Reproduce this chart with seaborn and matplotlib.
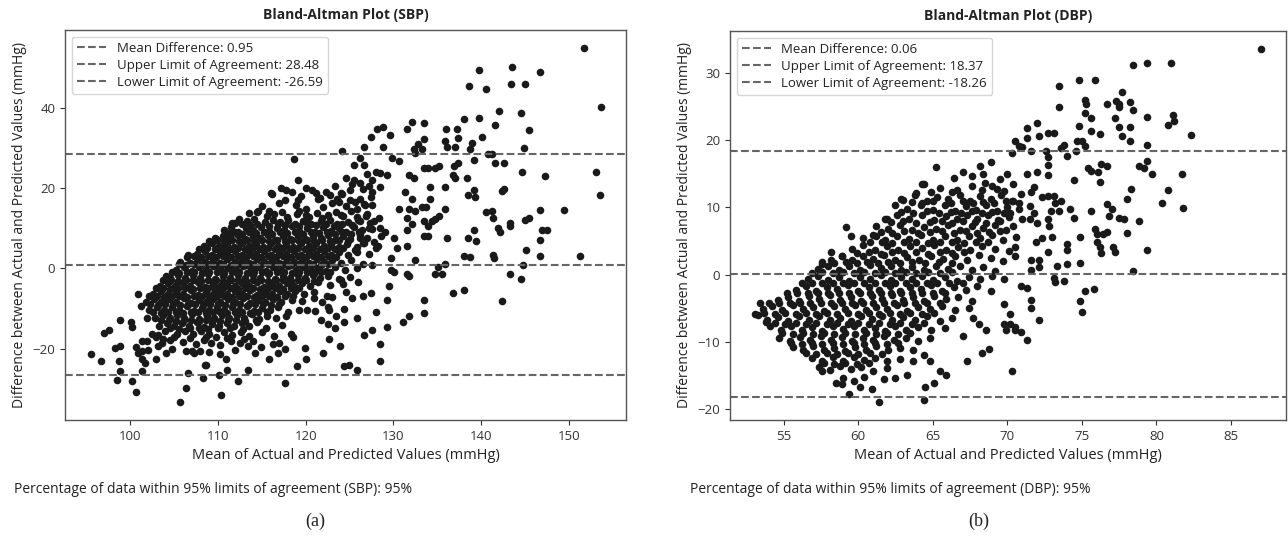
import pandas as pd
import seaborn as sns
import matplotlib.pyplot as plt

# Bland-Altman data: (mean of actual & predicted, difference)
sbp_sparse = [
    (151.7, 55.1), (153.6, 40.3), (153.1, 24.1), (153.5, 18.4), (151.2, 3.2), (149.4, 14.6),
    (146.7, 49.1), (147.3, 23.0), (146.7, 14.6), (146.9, 9.5), (147.5, 9.5), (146.7, 7.0),
    (146.7, 3.2), (145.0, 46.0), (143.5, 50.2), (143.4, 46.0), (144.5, 38.7), (145.4, 34.6),
    (144.9, 30.0), (144.7, 24.1), (145.4, 12.5), (145.0, 12.0), (145.1, 4.5), (144.8, 0.8),
    (144.5, -2.6), (143.3, -1.4), (143.3, 11.4), (143.3, 10.6), (142.4, 19.3), (142.6, 19.7),
    (142.6, 26.4), (142.4, -8.2), (142.0, 39.3), (141.6, 35.8), (141.2, 28.5), (140.8, 28.5),
    (141.6, 26.4), (141.2, 14.4), (140.6, 14.0), (141.3, 12.7), (141.9, 10.2), (142.1, 9.1),
    (141.3, 3.3), (141.5, 2.6), (140.5, 44.7), (139.7, 49.6), (138.6, 45.5), (139.7, 37.5),
    (140.1, 32.8), (139.2, 27.0), (138.9, 31.3), (138.7, 29.8), (138.0, 37.4), (138.4, 22.5),
    (139.2, 19.5), (139.3, 17.8), (138.5, 18.3), (139.2, 9.7), (138.5, 7.6), (139.4, 6.9),
    (138.0, 3.2), (138.7, 2.9), (138.0, -5.5), (137.4, 32.5), (137.2, 34.7), (137.0, 30.2),
    (137.3, 26.4), (136.9, 25.5), (136.8, 23.4), (137.0, 22.5), (136.0, 34.7), (135.9, 31.9),
    (136.1, 30.2), (135.9, 20.4), (135.9, 14.8), (136.1, 7.6), (135.9, 1.2), (136.8, -6.1),
    (135.2, 25.5), (134.7, 25.1), (135.2, 13.1), (134.7, 12.3), (135.5, -1.4), (134.7, -1.4),
    (135.1, 0.3), (133.5, 36.2), (133.5, 32.3), (133.3, 29.8), (132.8, 31.1), (133.5, 25.1),
    (133.9, 25.1), (134.2, 20.4), (134.2, 17.4), (133.7, 15.3), (133.3, 15.3), (133.5, 11.9),
    (133.9, 10.6), (134.4, 11.9), (133.5, 8.0), (133.9, 8.0), (133.5, -7.8), (133.5, -11.2),
    (132.5, 2.0), (132.1, 36.6), (131.6, 34.9), (132.3, 29.8), (132.5, 28.9), (131.8, 23.4),
    (132.3, 22.5), (132.1, 17.4), (131.8, 14.8), (132.5, 14.4), (131.6, 12.7), (132.1, 11.0),
    (131.6, 9.7), (131.6, 5.5), (131.6, -1.4), (131.8, -1.8), (131.8, -12.0), (131.1, -13.3),
    (130.6, 26.8), (131.3, 19.1), (130.6, 14.8), (130.1, 7.6), (130.4, 5.0), (129.7, 2.5),
    (129.7, -0.5), (130.1, -0.9), (129.5, -4.4), (129.3, -7.8), (129.3, -14.6), (128.5, -18.9),
    (128.5, -23.0), (128.0, -10.8), (128.8, 35.3), (128.1, 34.9), (129.6, 33.2), (129.8, 27.6),
    (128.8, 30.2), (129.3, 23.4), (128.5, 23.8), (128.5, 20.4), (127.6, 22.1), (127.6, 19.1),
    (127.6, 15.7), (127.8, 11.9), (128.5, 10.2), (127.8, 6.7), (128.3, 5.5), (127.6, 0.8),
    (127.4, -6.1), (127.6, -15.4), (126.7, -16.7), (127.4, 32.8), (126.7, 30.2), (126.2, 27.6),
    (125.5, 25.9), (126.7, 25.9), (125.5, 22.1), (126.2, 21.2), (126.2, 17.4), (126.7, 16.1),
    (125.8, 14.8), (126.9, 13.1), (126.2, 11.9), (127.2, 10.2), (126.2, 7.6), (126.5, 6.3),
    (125.8, 4.2), (126.5, -6.9), (125.8, -12.5), (125.8, -25.3), (124.9, -24.0), (124.4, -24.4),
    (124.1, 29.4), (124.6, 22.5), (123.9, -19.3), (124.4, -13.3), (122.7, -17.6), (122.7, -10.3),
    (122.0, -21.0), (120.0, -22.7), (119.9, -19.9), (119.0, -24.4), (117.7, -28.7), (118.6, -17.2),
    (117.7, -20.1), (116.8, -21.0), (115.8, -22.7), (116.3, -18.9), (114.9, -19.7), (113.4, -19.3),
    (113.4, -25.3), (112.3, -28.2), (111.1, -25.3), (110.9, -22.7), (110.1, -26.5), (110.4, -31.7),
    (108.3, -27.4), (108.5, -24.0), (108.7, -24.0), (106.6, -26.1), (106.4, -29.8), (105.7, -33.4),
    (106.4, -20.6), (107.3, -21.0), (100.7, -30.8), (100.2, -28.1), (98.5, -27.8), (98.8, -25.5),
    (98.7, -23.1), (98.3, -19.9), (98.8, -19.3), (95.5, -21.4), (96.7, -23.1), (97.0, -16.1),
    (97.6, -15.3), (98.8, -12.9), (100.1, -13.3), (100.2, -14.6), (100.7, -19.7), (100.9, -21.0),
    (101.4, -20.6), (101.4, -22.7), (101.7, -23.5), (101.4, -25.7), (100.9, -6.5), (101.2, -9.5),
    (101.9, -12.5), (101.4, -18.0), (103.0, -22.7), (103.2, -19.3), (103.7, -17.6), (103.2, -16.7),
    (104.1, -21.0), (104.1, -1.8), (105.7, 1.6), (106.6, 3.3), (107.5, 2.9), (109.7, 7.6),
    (110.9, 3.8), (111.6, 8.9), (112.0, 11.4), (114.6, 14.4), (115.8, 14.4), (116.1, 18.7),
    (117.2, 20.0), (117.7, 17.0), (118.7, 27.2), (119.1, 22.1), (118.4, 19.1), (120.0, 20.0),
    (120.7, 19.5), (121.2, 18.7), (121.4, 17.4), (119.1, 17.0), (119.3, 14.4), (120.0, 14.8),
    (122.3, 19.0), (123.3, 20.5), (124.0, 18.9), (125.0, 19.5), (125.3, 21.0), (123.8, 16.5),
    (126.5, 19.8), (127.0, 23.5), (128.0, 24.0), (127.2, 20.5), (121.9, -8.5), (122.5, -9.6),
    (123.5, -12.0), (124.0, -2.8), (124.6, -5.8), (125.3, -7.5), (124.4, -10.2), (126.0, -3.5),
    (121.8, -13.0), (122.6, -14.0), (123.4, -15.0),
]

sbp_core = [
    (116.2, 18.5), (117.8, 19.6), (119.5, 18.0), (121.6, 17.6), (122.8, 18.2), (123.6, 17.3), (124.2, 18.6), (125.0, 17.0),
    (115.0, 15.6), (117.0, 16.4), (118.9, 15.9), (122.0, 15.2), (123.0, 16.3), (124.6, 15.5), (125.6, 16.6), (126.8, 15.8), (127.4, 17.8),
    (113.6, 13.8), (114.5, 14.2), (116.4, 13.6), (117.3, 14.0), (119.0, 13.5), (120.4, 12.8), (121.3, 13.9), (122.5, 13.4),
    (123.5, 14.1), (124.3, 13.0), (125.2, 14.3), (127.0, 13.6),
    (111.6, 11.4), (112.4, 12.3), (113.3, 11.8), (114.1, 12.4), (115.4, 11.7), (116.3, 12.2), (117.1, 11.5), (118.0, 12.1),
    (118.8, 11.2), (119.7, 11.9), (120.6, 11.0), (121.7, 11.8), (122.8, 12.2), (123.6, 11.2), (124.8, 11.6), (126.0, 12.0),
    (127.3, 11.3), (128.4, 12.6),
    (110.7, 9.6), (111.5, 10.3), (112.3, 9.2), (113.2, 10.1), (114.0, 9.5), (114.9, 10.4), (115.8, 9.3), (116.7, 10.2),
    (117.5, 9.6), (118.4, 10.5), (119.3, 9.4), (120.2, 10.0), (121.1, 9.2), (122.0, 10.3), (122.9, 9.4), (123.8, 10.1),
    (124.6, 9.2), (125.5, 10.4), (126.4, 9.5), (127.6, 9.9), (129.0, 9.2),
    (109.8, 7.4), (110.6, 8.2), (111.4, 7.6), (112.3, 8.4), (113.1, 7.3), (114.0, 8.1), (114.8, 7.5), (115.7, 8.3),
    (116.5, 7.2), (117.4, 8.0), (118.2, 7.4), (119.1, 8.2), (119.9, 7.3), (120.8, 8.1), (121.7, 7.5), (122.5, 8.4),
    (123.4, 7.2), (124.3, 8.0), (125.1, 7.4), (126.2, 8.3), (127.0, 7.6), (128.6, 8.0),
    (108.4, 5.6), (109.3, 6.3), (110.1, 5.5), (111.0, 6.2), (111.8, 5.4), (112.7, 6.4), (113.5, 5.6), (114.4, 6.1),
    (115.2, 5.3), (116.1, 6.3), (116.9, 5.5), (117.8, 6.2), (118.6, 5.4), (119.5, 6.4), (120.4, 5.6), (121.2, 6.3),
    (122.1, 5.5), (122.9, 6.1), (123.8, 5.4), (124.7, 6.2), (125.8, 5.3), (126.6, 6.4), (128.0, 5.2),
    (107.6, 3.6), (108.5, 4.3), (109.3, 3.4), (110.2, 4.1), (111.0, 3.5), (111.9, 4.4), (112.7, 3.3), (113.6, 4.2),
    (114.4, 3.6), (115.3, 4.3), (116.1, 3.4), (117.0, 4.1), (117.8, 3.5), (118.7, 4.4), (119.5, 3.3), (120.4, 4.2),
    (121.2, 3.6), (122.1, 4.3), (122.9, 3.4), (123.8, 4.0), (124.8, 3.3), (125.6, 4.5), (127.2, 3.5),
    (106.8, 1.4), (107.7, 2.3), (108.5, 1.5), (109.4, 2.2), (110.2, 1.3), (111.1, 2.4), (111.9, 1.6), (112.8, 2.1),
    (113.6, 1.3), (114.5, 2.3), (115.3, 1.5), (116.2, 2.2), (117.0, 1.4), (117.9, 2.4), (118.7, 1.6), (119.6, 2.1),
    (120.4, 1.3), (121.3, 2.3), (122.1, 1.5), (123.0, 2.2), (124.0, 1.4), (125.2, 2.0), (126.5, 1.2),
    (105.2, -0.4), (106.1, 0.3), (107.0, -0.6), (107.8, 0.4), (108.7, -0.3), (109.5, 0.5), (110.4, -0.5), (111.2, 0.2),
    (112.1, -0.4), (112.9, 0.6), (113.8, -0.2), (114.6, 0.4), (115.5, -0.6), (116.3, 0.3), (117.2, -0.4), (118.0, 0.5),
    (118.9, -0.3), (119.7, 0.4), (120.6, -0.5), (121.4, 0.2), (122.3, -0.6), (123.3, 0.3), (124.5, -0.4), (125.8, 0.1),
    (104.6, -2.3), (105.5, -1.6), (106.3, -2.5), (107.2, -1.7), (108.0, -2.4), (108.9, -1.5), (109.7, -2.6), (110.6, -1.8),
    (111.4, -2.4), (112.3, -1.6), (113.1, -2.5), (114.0, -1.7), (114.8, -2.3), (115.7, -1.5), (116.5, -2.6), (117.4, -1.8),
    (118.2, -2.4), (119.1, -1.6), (119.9, -2.5), (120.8, -1.7), (121.6, -2.4), (122.6, -1.9), (123.8, -2.6), (125.0, -2.2),
    (103.4, -4.4), (104.3, -3.6), (105.1, -4.5), (106.0, -3.7), (106.8, -4.3), (107.7, -3.5), (108.5, -4.6), (109.4, -3.8),
    (110.2, -4.4), (111.1, -3.6), (111.9, -4.5), (112.8, -3.7), (113.6, -4.3), (114.5, -3.5), (115.3, -4.6), (116.2, -3.8),
    (117.0, -4.4), (117.9, -3.6), (118.7, -4.5), (119.6, -3.7), (120.5, -4.3), (121.4, -3.5), (122.8, -4.2), (124.3, -3.8),
    (102.6, -6.4), (103.5, -5.6), (104.3, -6.5), (105.2, -5.7), (106.0, -6.3), (106.9, -5.5), (107.7, -6.6), (108.6, -5.8),
    (109.4, -6.4), (110.3, -5.6), (111.1, -6.5), (112.0, -5.7), (112.8, -6.3), (113.7, -5.5), (114.5, -6.6), (115.4, -5.8),
    (116.2, -6.4), (117.1, -5.6), (117.9, -6.5), (118.8, -5.7), (119.8, -6.3), (120.9, -5.9), (122.4, -6.8),
    (101.8, -8.3), (102.7, -7.6), (103.5, -8.5), (104.4, -7.7), (105.2, -8.4), (106.1, -7.5), (106.9, -8.6), (107.8, -7.8),
    (108.6, -8.4), (109.5, -7.6), (110.3, -8.5), (111.2, -7.7), (112.0, -8.3), (112.9, -7.5), (113.7, -8.6), (114.6, -7.8),
    (115.4, -8.4), (116.3, -7.6), (117.2, -8.5), (118.4, -7.9), (119.6, -8.2), (121.0, -7.4), (123.0, -7.2),
    (102.2, -10.3), (103.1, -9.6), (103.9, -10.5), (104.8, -9.7), (105.6, -10.4), (106.5, -9.5), (107.3, -10.6), (108.2, -9.8),
    (109.0, -10.4), (109.9, -9.6), (110.7, -10.5), (111.6, -9.7), (112.4, -10.3), (113.3, -9.5), (114.1, -10.6), (115.0, -9.8),
    (115.9, -10.4), (116.9, -9.6), (118.0, -10.8), (119.2, -10.5), (120.2, -10.3), (121.1, -10.6),
    (102.8, -12.4), (103.7, -11.6), (104.5, -12.5), (105.4, -11.7), (106.2, -12.3), (107.1, -11.5), (107.9, -12.6), (108.8, -11.8),
    (109.6, -12.4), (110.5, -11.6), (111.3, -12.5), (112.2, -11.7), (113.0, -12.3), (113.9, -11.5), (114.7, -12.6), (115.6, -11.8),
    (116.6, -12.5), (117.8, -12.0),
    (103.3, -14.3), (104.2, -13.6), (105.0, -14.5), (105.9, -13.7), (106.7, -14.4), (107.6, -13.5), (108.4, -14.6), (109.3, -13.8),
    (110.1, -14.4), (111.0, -13.6), (111.8, -14.5), (112.7, -13.7), (113.6, -14.3), (114.5, -13.5), (115.5, -14.8), (117.3, -14.1),
    (102.5, -16.3), (104.0, -15.7), (105.4, -16.4), (106.3, -15.6), (107.2, -16.5), (108.1, -15.7), (109.0, -16.4), (109.8, -17.1),
    (110.7, -15.9), (111.6, -16.6), (112.6, -16.0), (113.5, -16.8), (115.0, -15.8), (116.4, -16.9), (118.3, -16.4),
    (101.9, -18.2), (103.6, -18.6), (104.6, -17.9), (106.0, -18.4), (107.5, -18.8), (108.4, -17.8), (109.2, -18.5), (110.3, -19.0),
    (111.5, -18.1), (112.5, -18.6), (114.0, -18.2), (117.0, -18.5),
    (102.1, -20.4), (104.8, -20.1), (107.0, -20.6), (108.0, -20.5), (109.0, -20.9), (110.2, -21.3), (112.0, -20.4), (114.2, -21.0),
]

# extra points between the core rows, where the cloud is solid black
sbp_fill = [
    (115.6, 13.1), (117.9, 12.9), (120.0, 13.3), (121.9, 12.7), (124.0, 13.4), (125.9, 12.8),
    (112.8, 11.0), (113.7, 10.8), (114.5, 11.2), (115.8, 10.7), (116.8, 11.1), (117.6, 10.9), (119.2, 10.6),
    (120.1, 11.3), (121.2, 10.8), (122.3, 11.0), (123.2, 10.7), (124.2, 11.2), (125.3, 10.9),
    (111.1, 8.9), (112.0, 9.1), (112.8, 8.7), (113.6, 9.0), (114.4, 8.8), (115.3, 9.1), (116.2, 8.7), (117.1, 9.0),
    (117.9, 8.8), (118.8, 9.1), (119.7, 8.7), (120.6, 9.0), (121.5, 8.8), (122.4, 9.1), (123.3, 8.7), (124.2, 9.0),
    (125.2, 8.6), (126.1, 9.0),
    (109.0, 6.9), (109.9, 7.1), (110.7, 6.8), (111.6, 7.0), (112.4, 6.8), (113.3, 7.1), (114.1, 6.9), (115.0, 7.0),
    (115.8, 6.8), (116.7, 7.1), (117.6, 6.9), (118.4, 7.0), (119.3, 6.8), (120.2, 7.1), (121.0, 6.9), (121.9, 7.0),
    (122.8, 6.8), (123.8, 7.1), (124.8, 6.9),
    (107.9, 4.9), (108.8, 5.1), (109.7, 4.8), (110.6, 5.0), (111.4, 4.8), (112.3, 5.1), (113.1, 4.9), (114.0, 5.0),
    (114.8, 4.8), (115.7, 5.1), (116.5, 4.9), (117.4, 5.0), (118.2, 4.8), (119.1, 5.1), (119.9, 4.9), (120.8, 5.0),
    (121.6, 4.8), (122.5, 5.1), (123.4, 4.9), (124.3, 5.0),
    (106.5, 2.9), (107.3, 3.1), (108.1, 2.8), (108.9, 3.0), (109.8, 2.8), (110.6, 3.1), (111.5, 2.9), (112.3, 3.0),
    (113.2, 2.8), (114.0, 3.1), (114.9, 2.9), (115.7, 3.0), (116.6, 2.8), (117.4, 3.1), (118.3, 2.9), (119.1, 3.0),
    (120.0, 2.8), (120.8, 3.1), (121.7, 2.9), (122.5, 3.0), (123.5, 2.8),
    (105.6, 1.0), (106.4, 0.9), (107.3, 1.1), (108.1, 0.8), (108.9, 1.0), (109.8, 0.9), (110.6, 1.1), (111.5, 0.8),
    (112.3, 1.0), (113.2, 0.9), (114.0, 1.1), (114.9, 0.8), (115.7, 1.0), (116.6, 0.9), (117.4, 1.1), (118.3, 0.8),
    (119.1, 1.0), (120.0, 0.9), (120.8, 1.1), (121.7, 0.8), (122.6, 1.0),
    (104.8, -1.0), (105.6, -1.1), (106.5, -0.9), (107.3, -1.0), (108.2, -1.1), (109.0, -0.9), (109.9, -1.0), (110.7, -1.1),
    (111.6, -0.9), (112.4, -1.0), (113.3, -1.1), (114.1, -0.9), (115.0, -1.0), (115.8, -1.1), (116.7, -0.9), (117.5, -1.0),
    (118.4, -1.1), (119.2, -0.9), (120.1, -1.0), (120.9, -1.1), (121.8, -0.9), (122.8, -1.0),
    (103.8, -3.0), (104.7, -2.9), (105.5, -3.1), (106.4, -3.0), (107.2, -2.9), (108.1, -3.1), (108.9, -3.0), (109.8, -2.9),
    (110.6, -3.1), (111.5, -3.0), (112.3, -2.9), (113.2, -3.1), (114.0, -3.0), (114.9, -2.9), (115.7, -3.1), (116.6, -3.0),
    (117.4, -2.9), (118.3, -3.1), (119.1, -3.0), (120.0, -2.9), (121.0, -3.1),
    (102.9, -5.0), (103.8, -4.9), (104.6, -5.1), (105.5, -5.0), (106.3, -4.9), (107.2, -5.1), (108.0, -5.0), (108.9, -4.9),
    (109.7, -5.1), (110.6, -5.0), (111.4, -4.9), (112.3, -5.1), (113.1, -5.0), (114.0, -4.9), (114.8, -5.1), (115.7, -5.0),
    (116.5, -4.9), (117.4, -5.1), (118.3, -5.0), (119.3, -4.9),
    (102.2, -7.0), (103.1, -6.9), (103.9, -7.1), (104.8, -7.0), (105.6, -6.9), (106.5, -7.1), (107.3, -7.0), (108.2, -6.9),
    (109.0, -7.1), (109.9, -7.0), (110.7, -6.9), (111.6, -7.1), (112.4, -7.0), (113.3, -6.9), (114.1, -7.1), (115.0, -7.0),
    (115.8, -6.9), (116.7, -7.1), (117.6, -7.0), (118.6, -6.9),
    (102.3, -9.0), (103.2, -9.1), (104.0, -8.9), (104.9, -9.0), (105.7, -9.1), (106.6, -8.9), (107.4, -9.0), (108.3, -9.1),
    (109.1, -8.9), (110.0, -9.0), (110.8, -9.1), (111.7, -8.9), (112.5, -9.0), (113.4, -9.1), (114.2, -8.9), (115.1, -9.0),
    (116.0, -9.1), (117.0, -8.9),
    (102.6, -11.0), (103.5, -11.1), (104.3, -10.9), (105.2, -11.0), (106.0, -11.1), (106.9, -10.9), (107.7, -11.0), (108.6, -11.1),
    (109.4, -10.9), (110.3, -11.0), (111.1, -11.1), (112.0, -10.9), (112.8, -11.0), (113.7, -11.1), (114.6, -10.9), (115.6, -11.0),
    (103.5, -13.0), (104.4, -12.9), (105.2, -13.1), (106.1, -13.0), (106.9, -12.9), (107.8, -13.1), (108.6, -13.0), (109.5, -12.9),
    (110.3, -13.1), (111.2, -13.0), (112.1, -12.9), (113.1, -13.1), (114.3, -13.0),
    (104.5, -15.0), (105.6, -15.1), (106.8, -14.9), (107.9, -15.0), (108.9, -15.1), (110.0, -14.9), (111.4, -15.0), (112.9, -15.1),
    (103.0, -17.2), (105.0, -17.0), (106.8, -17.3), (108.6, -17.1), (111.0, -17.4), (113.0, -17.6),
]

dbp_sparse = [
    (87.0, 33.6), (78.4, 31.1), (79.4, 31.5), (81.0, 31.4), (74.8, 28.9), (75.9, 29.0), (73.5, 28.0),
    (73.5, 24.9), (77.7, 27.1), (77.5, 25.4), (77.3, 25.8), (78.2, 25.7), (78.4, 24.5), (76.7, 25.4),
    (77.5, 24.9), (75.2, 25.9), (75.3, 25.3), (75.2, 24.0), (75.6, 23.3), (77.2, 23.3), (77.5, 22.0),
    (78.2, 21.9), (79.4, 23.5), (81.1, 23.7), (81.2, 22.8), (80.8, 22.3), (82.3, 20.7), (74.8, 22.1),
    (75.6, 21.3), (76.2, 20.9), (77.7, 20.6), (78.2, 19.8), (74.7, 19.8), (75.0, 19.8), (75.2, 19.1),
    (74.6, 18.3), (79.4, 19.3), (74.0, 17.6), (73.6, 18.8), (73.8, 19.3), (73.1, 21.1), (72.7, 21.0),
    (72.0, 22.5), (72.1, 20.6), (71.3, 21.8), (71.3, 20.3), (70.8, 19.1), (71.0, 18.9), (70.5, 19.9),
    (70.3, 18.1), (71.6, 18.4), (72.6, 18.3), (72.7, 17.5), (72.7, 16.3), (72.0, 15.3), (71.3, 15.0),
    (71.8, 13.0), (72.7, 14.8), (74.5, 14.0), (75.4, 15.9), (75.6, 15.4), (76.2, 13.8), (76.1, 15.3),
    (76.7, 16.1), (76.3, 16.4), (78.8, 16.1), (79.4, 16.9), (79.2, 15.8), (79.7, 15.0), (81.7, 15.0),
    (78.3, 12.7), (80.8, 12.6), (78.0, 11.2), (80.4, 10.6), (81.8, 9.9), (76.7, 10.5), (77.0, 9.8),
    (76.8, 8.7), (77.5, 8.4), (77.8, 8.2), (78.8, 8.0), (75.6, 9.4), (77.1, 4.1), (77.2, 3.4),
    (78.0, 6.2), (79.4, 3.6), (78.4, 0.5), (75.9, 6.8), (76.0, 6.1), (76.4, 6.0), (76.7, 6.3),
    (76.0, 4.9), (76.2, 4.1), (76.3, 3.2), (74.9, 5.6), (74.9, 1.7), (75.8, -2.1), (75.2, -2.5),
    (74.9, -4.0), (75.0, -5.6), (73.8, -1.0), (73.1, -0.5), (73.2, -1.1), (74.0, 1.6), (73.3, 1.3),
    (74.0, 3.6), (74.0, 4.6), (73.0, 5.6), (72.7, 3.4), (72.3, 5.4), (72.1, 2.1), (72.1, 1.1),
    (71.6, 2.1), (71.6, 0.6), (71.9, 4.9), (72.0, 7.7), (72.7, 8.2), (72.8, 7.2), (72.9, 9.4),
    (73.5, 9.4), (73.2, 10.7), (73.6, 11.0), (74.2, 9.7), (74.5, 8.4), (73.1, 11.7), (72.7, 11.7),
    (72.3, 11.5), (71.5, 10.2), (71.8, 9.2), (71.5, 8.2), (71.0, 8.2), (71.6, 12.2), (70.4, 11.0),
    (70.8, 10.7), (70.2, 9.2), (70.4, 7.2), (70.6, 5.6), (70.5, 4.1), (70.5, 2.8), (71.3, -2.0),
    (70.9, -1.7), (71.6, -3.8), (71.6, -5.0), (72.1, -6.8), (71.3, -9.8), (70.9, -8.5), (70.5, -7.8),
    (70.5, -8.3), (70.2, -7.3), (69.8, -7.3), (69.9, -8.3), (70.2, -5.9), (69.8, -4.4), (70.3, -14.4),
    (68.8, -11.1), (68.3, -11.6), (67.3, -12.9), (68.6, -8.3), (68.1, -7.3), (67.7, -6.5), (67.0, -9.1),
    (65.9, -14.9), (65.5, -14.4), (65.1, -16.1), (64.5, -16.7), (64.4, -18.7), (64.8, -12.9), (64.4, -11.9),
    (63.7, -12.9), (63.3, -14.9), (62.5, -15.4), (61.4, -19.0), (60.1, -16.7), (59.4, -17.7), (58.5, -16.2),
    (58.9, -16.3), (57.6, -14.4), (57.6, -13.1), (59.2, 7.0), (59.5, 5.7), (58.2, 3.4), (57.6, 1.6),
    (58.9, 2.7), (65.2, 16.0), (64.3, 13.4), (63.9, 12.1), (62.9, 11.2), (61.9, 8.2), (61.2, 5.7),
    (53.1, -5.8), (53.4, -4.3), (53.8, -7.1),
]

dbp_core = [
    (68.2, 16.2), (68.9, 16.8), (67.0, 15.2), (68.4, 15.0),
    (66.4, 14.4), (67.6, 14.6), (68.5, 13.6), (69.5, 14.2), (70.0, 15.0),
    (64.4, 13.4), (65.5, 12.8), (66.3, 12.3), (67.6, 13.2), (68.3, 12.6), (69.0, 13.1), (69.8, 12.4), (70.4, 13.4),
    (63.0, 11.1), (63.8, 11.9), (64.6, 11.0), (65.3, 11.6), (66.0, 11.2), (66.8, 11.9), (67.5, 11.0), (68.2, 11.7),
    (68.9, 11.3), (69.6, 11.8), (70.3, 10.9),
    (62.5, 10.3), (63.3, 9.7), (64.2, 10.4), (65.0, 9.6), (65.8, 10.3), (66.5, 9.5), (67.2, 10.2), (67.9, 9.6),
    (68.6, 10.3), (69.3, 9.5), (70.0, 10.1),
    (61.8, 8.3), (62.6, 8.9), (63.4, 8.2), (64.3, 8.8), (65.1, 8.1), (65.9, 8.7), (66.6, 8.3), (67.3, 8.9),
    (68.0, 8.2), (68.7, 8.8), (69.4, 8.1), (70.1, 8.6),
    (61.2, 7.2), (62.0, 6.7), (62.8, 7.3), (63.6, 6.6), (64.4, 7.1), (65.2, 6.8), (66.0, 7.4), (66.8, 6.6),
    (67.6, 7.2), (68.4, 6.9), (69.2, 7.3), (69.9, 6.6),
    (60.3, 5.4), (61.0, 5.9), (61.8, 5.2), (62.6, 5.8), (63.4, 5.3), (64.2, 5.9), (65.0, 5.2), (65.8, 5.7),
    (66.6, 5.1), (67.4, 5.8), (68.2, 5.4), (69.0, 5.9), (69.7, 5.2),
    (59.6, 3.8), (60.3, 4.4), (61.1, 3.7), (61.9, 4.3), (62.7, 3.6), (63.5, 4.2), (64.3, 3.9), (65.1, 4.4),
    (65.9, 3.7), (66.7, 4.1), (67.5, 3.6), (68.3, 4.3), (69.2, 3.8), (70.1, 3.5),
    (58.2, 2.2), (58.9, 2.8), (59.6, 2.1), (60.3, 2.7), (61.0, 2.3), (61.7, 2.9), (62.5, 2.2), (63.3, 2.6),
    (64.1, 2.1), (64.9, 2.8), (65.7, 2.3), (66.5, 2.7), (67.3, 2.1), (68.1, 2.9), (68.9, 2.4), (69.7, 2.0),
    (57.3, 0.8), (58.0, 1.3), (58.7, 0.6), (59.4, 1.2), (60.1, 0.7), (60.8, 1.4), (61.5, 0.9), (62.2, 1.3),
    (62.9, 0.6), (63.6, 1.1), (64.4, 0.7), (65.2, 1.3), (66.0, 0.8), (66.8, 1.2), (67.6, 0.6), (68.4, 1.1), (69.2, 0.5),
    (56.6, -0.7), (57.3, -0.2), (58.0, -0.8), (58.7, -0.3), (59.4, -0.9), (60.1, -0.4), (60.8, -0.6), (61.5, -0.1),
    (62.2, -0.8), (62.9, -0.3), (63.6, -0.7), (64.3, -0.2), (65.0, -0.8), (65.8, -0.4), (66.6, -0.9), (67.4, -0.3),
    (68.2, -0.6), (69.0, -0.2), (69.8, -0.7),
    (55.8, -2.3), (56.5, -1.7), (57.2, -2.4), (57.9, -1.8), (58.6, -2.2), (59.3, -1.6), (60.0, -2.5), (60.7, -1.9),
    (61.4, -2.3), (62.1, -1.7), (62.8, -2.4), (63.5, -1.8), (64.2, -2.2), (64.9, -1.6), (65.6, -2.5), (66.4, -1.9),
    (67.2, -2.3), (68.0, -1.7), (68.9, -2.4),
    (54.6, -3.8), (55.3, -3.3), (56.0, -3.9), (56.7, -3.2), (57.4, -3.7), (58.1, -3.1), (58.8, -3.8), (59.5, -3.3),
    (60.2, -3.9), (60.9, -3.2), (61.6, -3.7), (62.3, -3.1), (63.0, -3.8), (63.7, -3.3), (64.4, -3.9), (65.1, -3.2),
    (65.9, -3.7), (66.7, -3.4), (67.6, -3.9),
    (53.6, -5.2), (54.2, -4.7), (54.9, -5.3), (55.6, -4.6), (56.3, -5.1), (57.0, -4.8), (57.7, -5.4), (58.4, -4.7),
    (59.1, -5.2), (59.8, -4.6), (60.5, -5.3), (61.2, -4.8), (61.9, -5.1), (62.6, -4.6), (63.3, -5.4), (64.0, -4.9),
    (64.8, -5.2), (65.6, -4.7), (66.5, -5.3), (67.4, -5.0),
    (53.3, -6.0), (53.9, -6.8), (54.6, -6.3), (55.3, -6.9), (56.0, -6.2), (56.7, -6.7), (57.4, -6.1), (58.1, -6.8),
    (58.8, -6.4), (59.5, -6.9), (60.2, -6.2), (60.9, -6.6), (61.6, -6.1), (62.3, -6.8), (63.0, -6.3), (63.8, -6.7),
    (64.6, -6.2), (65.5, -6.9), (66.3, -6.4),
    (54.1, -7.6), (54.8, -8.2), (55.5, -7.7), (56.2, -8.3), (56.9, -7.8), (57.6, -8.4), (58.3, -7.7), (59.0, -8.1),
    (59.7, -7.6), (60.4, -8.3), (61.1, -7.9), (61.8, -8.4), (62.5, -7.7), (63.2, -8.2), (64.0, -7.8), (64.9, -8.3), (65.8, -8.0),
    (54.7, -9.4), (55.4, -9.9), (56.1, -9.3), (56.8, -9.8), (57.5, -9.2), (58.2, -9.7), (58.9, -9.3), (59.6, -9.9),
    (60.3, -9.4), (61.0, -9.7), (61.7, -9.1), (62.4, -9.8), (63.2, -9.4), (64.0, -9.9), (64.8, -9.5),
    (55.6, -10.8), (56.3, -11.3), (57.0, -10.7), (57.7, -11.2), (58.4, -10.9), (59.1, -11.4), (59.8, -10.8), (60.5, -11.2),
    (61.2, -10.7), (62.0, -11.3), (62.8, -10.9), (63.7, -11.2),
    (56.9, -12.4), (57.6, -12.9), (58.3, -12.3), (59.0, -12.8), (59.7, -12.2), (60.4, -12.7), (61.1, -12.4), (61.9, -12.9), (62.8, -12.5),
    (57.4, -13.7), (58.1, -14.2), (58.8, -13.6), (59.5, -14.1), (60.2, -13.8), (61.0, -14.3), (61.9, -13.9),
    (59.0, -15.4), (59.7, -15.8), (60.4, -15.2), (61.7, -15.6), (60.9, -17.0),
]

dbp_fill = [
    (64.9, 12.3), (66.6, 12.5), (69.3, 12.7), (70.9, 12.0),
    (63.6, 10.8), (64.3, 10.6), (65.0, 10.9), (66.2, 10.7), (67.0, 10.9), (67.7, 10.6), (68.4, 10.8), (69.1, 10.7),
    (69.9, 10.9), (70.8, 9.8),
    (62.9, 9.3), (63.7, 9.2), (64.6, 9.4), (65.4, 9.2), (66.2, 9.3), (66.9, 9.1), (67.6, 9.4), (68.3, 9.2), (69.0, 9.3), (69.8, 9.1),
    (62.2, 7.8), (63.0, 7.9), (63.9, 7.7), (64.8, 7.8), (65.6, 7.9), (66.3, 7.7), (67.0, 7.9), (67.8, 7.8), (68.6, 7.7), (69.5, 7.9),
    (61.5, 6.3), (62.3, 6.2), (63.1, 6.4), (64.0, 6.2), (64.8, 6.3), (65.6, 6.4), (66.4, 6.2), (67.2, 6.4), (68.0, 6.2),
    (68.8, 6.3), (69.5, 6.4),
    (60.8, 4.8), (61.6, 4.9), (62.3, 4.7), (63.1, 4.9), (63.9, 4.8), (64.7, 4.7), (65.5, 4.9), (66.3, 4.8), (67.1, 4.7),
    (67.9, 4.9), (68.7, 4.8),
    (59.9, 3.2), (60.7, 3.3), (61.5, 3.1), (62.3, 3.3), (63.1, 3.2), (63.9, 3.3), (64.7, 3.1), (65.5, 3.3), (66.3, 3.2), (67.1, 3.3),
    (57.6, 1.8), (58.4, 1.7), (59.2, 1.8), (59.9, 1.7), (60.6, 1.8), (61.3, 1.7), (62.0, 1.8), (62.8, 1.7), (63.6, 1.8),
    (64.5, 1.7), (65.4, 1.8), (66.3, 1.7),
    (56.9, 0.2), (57.6, 0.3), (58.3, 0.2), (59.0, 0.3), (59.7, 0.2), (60.4, 0.3), (61.1, 0.2), (61.8, 0.3), (62.5, 0.2),
    (63.2, 0.3), (63.9, 0.2), (64.7, 0.3), (65.5, 0.2), (66.3, 0.3),
    (56.2, -1.2), (56.9, -1.3), (57.6, -1.2), (58.3, -1.3), (59.0, -1.2), (59.7, -1.3), (60.4, -1.2), (61.1, -1.3),
    (61.8, -1.2), (62.5, -1.3), (63.2, -1.2), (63.9, -1.3), (64.6, -1.2), (65.3, -1.3), (66.1, -1.2), (67.0, -1.3),
    (55.2, -2.7), (55.9, -2.8), (56.6, -2.7), (57.3, -2.8), (58.0, -2.7), (58.7, -2.8), (59.4, -2.7), (60.1, -2.8),
    (60.8, -2.7), (61.5, -2.8), (62.2, -2.7), (62.9, -2.8), (63.6, -2.7), (64.3, -2.8), (65.0, -2.7), (65.8, -2.8),
    (54.0, -4.2), (54.7, -4.3), (55.4, -4.2), (56.1, -4.3), (56.8, -4.2), (57.5, -4.3), (58.2, -4.2), (58.9, -4.3),
    (59.6, -4.2), (60.3, -4.3), (61.0, -4.2), (61.7, -4.3), (62.4, -4.2), (63.1, -4.3), (63.8, -4.2), (64.6, -4.3), (65.5, -4.2),
    (53.7, -5.7), (54.4, -5.8), (55.1, -5.7), (55.8, -5.8), (56.5, -5.7), (57.2, -5.8), (57.9, -5.7), (58.6, -5.8),
    (59.3, -5.7), (60.0, -5.8), (60.7, -5.7), (61.4, -5.8), (62.1, -5.7), (62.8, -5.8), (63.5, -5.7), (64.3, -5.8), (65.1, -5.7),
    (54.4, -7.2), (55.1, -7.3), (55.8, -7.2), (56.5, -7.3), (57.2, -7.2), (57.9, -7.3), (58.6, -7.2), (59.3, -7.3),
    (60.0, -7.2), (60.7, -7.3), (61.4, -7.2), (62.1, -7.3), (62.8, -7.2), (63.6, -7.3), (64.4, -7.2),
    (54.9, -8.7), (55.6, -8.8), (56.3, -8.7), (57.0, -8.8), (57.7, -8.7), (58.4, -8.8), (59.1, -8.7), (59.8, -8.8),
    (60.5, -8.7), (61.2, -8.8), (61.9, -8.7), (62.7, -8.8), (63.5, -8.7),
    (55.5, -10.2), (56.2, -10.3), (56.9, -10.2), (57.6, -10.3), (58.3, -10.2), (59.0, -10.3), (59.7, -10.2), (60.4, -10.3),
    (61.1, -10.2), (61.9, -10.3), (62.7, -10.2),
    (56.5, -11.7), (57.2, -11.8), (57.9, -11.7), (58.6, -11.8), (59.3, -11.7), (60.0, -11.8), (60.8, -11.7), (61.6, -11.8),
    (57.7, -13.2), (58.4, -13.3), (59.1, -13.2), (59.9, -13.3), (60.7, -13.2),
]

# reference lines: mean difference, upper and lower limits of agreement
sbp_limits = [0.95, 28.48, -26.59]
dbp_limits = [0.06, 18.37, -18.26]
limit_names = ['Mean Difference', 'Upper Limit of Agreement', 'Lower Limit of Agreement']

sbp = pd.DataFrame(sbp_sparse + sbp_core + sbp_fill, columns=['mean', 'diff'])
dbp = pd.DataFrame(dbp_sparse + dbp_core + dbp_fill, columns=['mean', 'diff'])

sns.set_style('white')
plt.rcParams['font.family'] = ['Open Sans', 'DejaVu Sans']
plt.rcParams['axes.edgecolor'] = '#555555'
plt.rcParams['text.color'] = '#222222'
plt.rcParams['axes.labelcolor'] = '#222222'
plt.rcParams['xtick.color'] = '#333333'
plt.rcParams['ytick.color'] = '#333333'

fig = plt.figure(figsize=(12.88, 5.37), dpi=100)
ax1 = fig.add_axes([0.0505, 0.218, 0.4356, 0.7263])
ax2 = fig.add_axes([0.5668, 0.218, 0.4317, 0.7244])


def bland_altman(ax, df, limits, name):
    sns.scatterplot(data=df, x='mean', y='diff', color='#1a1a1a', s=30, linewidth=0, ax=ax)
    for val, lab in zip(limits, limit_names):
        ax.axhline(val, color='#666666', linestyle='--', linewidth=1.5, label=f'{lab}: {val:.2f}')
    ax.set_title(f'Bland-Altman Plot ({name})', fontsize=10, fontweight='bold', pad=8)
    ax.set_xlabel('Mean of Actual and Predicted Values (mmHg)', fontsize=10.5)
    ax.set_ylabel('Difference between Actual and Predicted Values (mmHg)', fontsize=10)
    ax.tick_params(axis='both', labelsize=9.5, length=3.5, width=0.8, left=True, bottom=True)
    for sp in ax.spines.values():
        sp.set_linewidth(1.0)
    ax.legend(loc='upper left', fontsize=9.5, frameon=True, handlelength=2.2, labelspacing=0.3)


bland_altman(ax1, sbp, sbp_limits, 'SBP')
bland_altman(ax2, dbp, dbp_limits, 'DBP')
ax1.set_xticks([100, 110, 120, 130, 140, 150])
ax1.set_yticks([-20, 0, 20, 40])
ax2.set_xticks([55, 60, 65, 70, 75, 80, 85])
ax2.set_yticks([-20, -10, 0, 10, 20, 30])

fig.text(0.011, 0.088, 'Percentage of data within 95% limits of agreement (SBP): 95%', fontsize=10, va='center')
fig.text(0.536, 0.088, 'Percentage of data within 95% limits of agreement (DBP): 95%', fontsize=10, va='center')
fig.text(0.245, 0.03, '(a)', fontsize=13, ha='center', va='center', family='Liberation Serif')
fig.text(0.760, 0.03, '(b)', fontsize=13, ha='center', va='center', family='Liberation Serif')

plt.savefig('out.png', dpi=100)
